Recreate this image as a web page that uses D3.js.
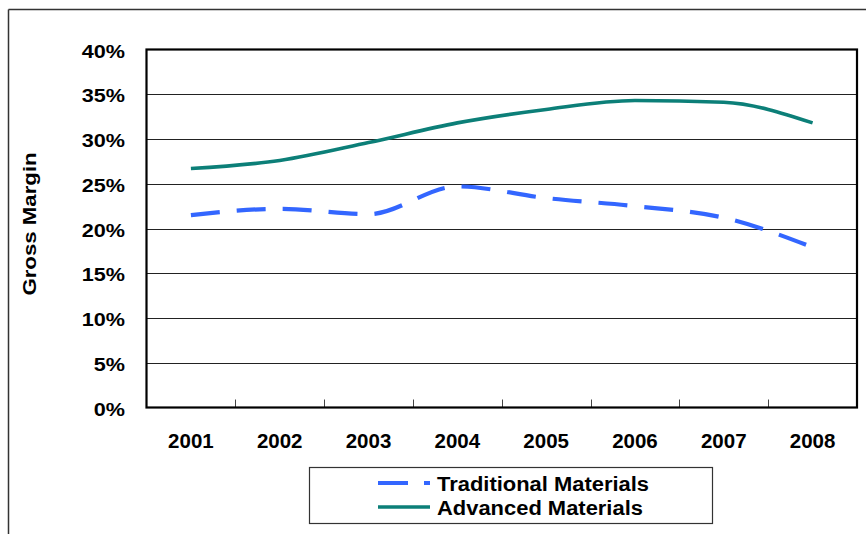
<!DOCTYPE html>
<html>
<head>
<meta charset="utf-8">
<script src="https://cdn.jsdelivr.net/npm/d3@7"></script>
<style>
  html, body { margin: 0; padding: 0; background: #fff; }
  svg { display: block; }
  text { font-family: "Liberation Sans", Arial, sans-serif; font-weight: bold; fill: #000; }
</style>
</head>
<body>
<svg id="chart" width="866" height="534"></svg>
<script>
// Gross margin by year for the two material groups
const years = ["2001", "2002", "2003", "2004", "2005", "2006", "2007", "2008"];
const traditional = [0.215, 0.222, 0.216, 0.247, 0.234, 0.225, 0.212, 0.179];
const advanced = [0.267, 0.276, 0.296, 0.318, 0.333, 0.343, 0.341, 0.318];
const yTicks = [0, 0.05, 0.10, 0.15, 0.20, 0.25, 0.30, 0.35, 0.40];
const seriesNames = ["Traditional Materials", "Advanced Materials"];

const svg = d3.select("#chart");
const plot = { left: 146.5, right: 857, top: 49.5, bottom: 407.5 };

const x = d3.scaleBand().domain(years).range([plot.left, plot.right]).padding(0);
const y = d3.scaleLinear().domain([0, 0.4]).range([plot.bottom, plot.top]);
const fmt = d3.format(".0%");

// outer frame (only the top and left edges fall inside the page)
svg.append("line").attr("x1", 8.5).attr("x2", 866).attr("y1", 9.5).attr("y2", 9.5)
  .attr("stroke", "#333").attr("stroke-width", 1.5);
svg.append("line").attr("x1", 8.5).attr("x2", 8.5).attr("y1", 9.5).attr("y2", 534)
  .attr("stroke", "#333").attr("stroke-width", 1.5);

// horizontal gridlines
svg.append("g").selectAll("line")
  .data(yTicks.filter(t => t > 0 && t < 0.4))
  .join("line")
  .attr("x1", plot.left).attr("x2", plot.right)
  .attr("y1", d => Math.round(y(d)) + 0.5).attr("y2", d => Math.round(y(d)) + 0.5)
  .attr("stroke", "#222").attr("stroke-width", 1);

// y-axis labels
svg.append("g").selectAll("text")
  .data(yTicks)
  .join("text")
  .attr("text-anchor", "end")
  .attr("font-size", 18)
  .attr("transform", d => `translate(125,${y(d) + 8}) scale(1.2,1)`)
  .text(d => fmt(d));

// x-axis category boundary ticks
svg.append("g").selectAll("line")
  .data(years.slice(1))
  .join("line")
  .attr("x1", d => Math.round(x(d)) + 0.5).attr("x2", d => Math.round(x(d)) + 0.5)
  .attr("y1", plot.bottom - 8).attr("y2", plot.bottom)
  .attr("stroke", "#444").attr("stroke-width", 1);

// x-axis labels
svg.append("g").selectAll("text")
  .data(years)
  .join("text")
  .attr("text-anchor", "middle")
  .attr("font-size", 20.5)
  .attr("x", d => x(d) + x.bandwidth() / 2)
  .attr("y", 448)
  .text(d => d);

// plot area border
svg.append("rect")
  .attr("x", plot.left).attr("y", plot.top)
  .attr("width", plot.right - plot.left).attr("height", plot.bottom - plot.top)
  .attr("fill", "none").attr("stroke", "#000").attr("stroke-width", 2.2);

// y-axis title
svg.append("text")
  .attr("text-anchor", "middle")
  .attr("font-size", 17.5)
  .attr("transform", "translate(36,224) rotate(-90) scale(1.27,1)")
  .text("Gross Margin");

// series lines
const line = d3.line()
  .x((d, i) => x(years[i]) + x.bandwidth() / 2)
  .y(d => y(d))
  .curve(d3.curveMonotoneX);

svg.append("path")
  .datum(advanced)
  .attr("d", line)
  .attr("fill", "none")
  .attr("stroke", "#0C7F78")
  .attr("stroke-width", 3.6);

svg.append("path")
  .datum(traditional)
  .attr("d", line)
  .attr("fill", "none")
  .attr("stroke", "#3366FF")
  .attr("stroke-width", 4.2)
  .attr("stroke-dasharray", "29,17");

// legend
const lg = svg.append("g");
lg.append("rect")
  .attr("x", 309.5).attr("y", 467.5).attr("width", 403).attr("height", 56)
  .attr("fill", "#fff").attr("stroke", "#333").attr("stroke-width", 1.2);

const legendRows = [
  { name: seriesNames[0], color: "#3366FF", dash: "30,16", width: 4.2, y: 483 },
  { name: seriesNames[1], color: "#0C7F78", dash: null, width: 3.6, y: 507 }
];
legendRows.forEach(r => {
  lg.append("line")
    .attr("x1", 378).attr("x2", 430).attr("y1", r.y).attr("y2", r.y)
    .attr("stroke", r.color).attr("stroke-width", r.width)
    .attr("stroke-dasharray", r.dash);
  lg.append("text")
    .attr("font-size", 20.5)
    .attr("transform", `translate(437,${r.y + 7.5}) scale(1.07,1)`)
    .text(r.name);
});
</script>
</body>
</html>
